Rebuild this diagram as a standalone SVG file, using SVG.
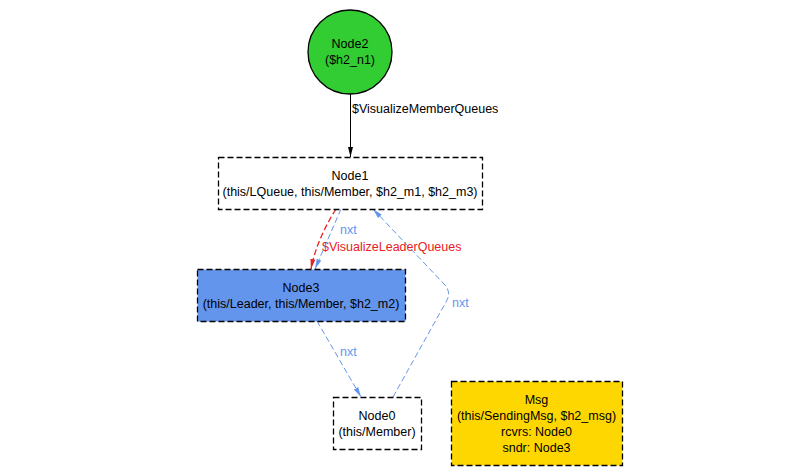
<svg xmlns="http://www.w3.org/2000/svg" width="788" height="470" viewBox="0 0 788 470">
<defs>
<style>
text{font-family:"Liberation Sans",Arial,sans-serif;font-size:12.5px;text-anchor:middle;fill:#000}
.lbl{text-anchor:start}
.box{stroke:#000;stroke-width:1.3;stroke-dasharray:6,3}
.e{fill:none;stroke-width:1}
.blue{stroke:#6495ED;stroke-dasharray:6,3}
.red{stroke:#E8201E;stroke-dasharray:6,3;stroke-width:1.3}
</style>
<marker id="ab" viewBox="0 0 10 10" refX="10" refY="5" markerWidth="10" markerHeight="10" markerUnits="userSpaceOnUse" orient="auto"><path d="M0,2.5L10,5L0,7.5z" fill="#000"/></marker>
<marker id="ablue" viewBox="0 0 10 10" refX="10" refY="5" markerWidth="10" markerHeight="10" markerUnits="userSpaceOnUse" orient="auto"><path d="M0,2.5L10,5L0,7.5z" fill="#6495ED"/></marker>
<marker id="ared" viewBox="0 0 10 10" refX="10" refY="5" markerWidth="10" markerHeight="10" markerUnits="userSpaceOnUse" orient="auto"><path d="M0,2.5L10,5L0,7.5z" fill="#E8201E"/></marker>
</defs>
<rect width="788" height="470" fill="#fff"/>
<g id="connectors">
<path class="e" stroke="#000" d="M350.5,94L350.5,157" marker-end="url(#ab)"/>
<text class="lbl" x="352" y="113">$VisualizeMemberQueues</text>
<path class="e red" d="M336,209C324,228 315,248 311,269" marker-end="url(#ared)"/>
<text class="lbl" x="322" y="251" style="fill:#E8201E">$VisualizeLeaderQueues</text>
<path class="e blue" d="M341,209L315,269" marker-end="url(#ablue)"/>
<text class="lbl" x="340" y="234" style="fill:#6495ED">nxt</text>
<path class="e blue" d="M317,321L361,397" marker-end="url(#ablue)"/>
<text class="lbl" x="340" y="356" style="fill:#6495ED">nxt</text>
<path class="e blue" d="M393,397L446,302Q452,292 444,284L373,209" marker-end="url(#ablue)"/>
<text class="lbl" x="452" y="307" style="fill:#6495ED">nxt</text>
</g>
<g id="Node2">
<circle cx="350" cy="52" r="42" fill="#32CD32" stroke="#000" stroke-width="1.3"/>
<text x="350" y="48">Node2</text>
<text x="350" y="64">($h2_n1)</text>
</g>
<g id="Node1">
<rect class="box" x="218.5" y="157.5" width="264" height="52" fill="#fff"/>
<text x="350" y="180">Node1</text>
<text x="350" y="196">(this/LQueue, this/Member, $h2_m1, $h2_m3)</text>
</g>
<g id="Node3">
<rect class="box" x="197.5" y="269.5" width="208" height="52" fill="#6495ED"/>
<text x="301" y="292">Node3</text>
<text x="301" y="308">(this/Leader, this/Member, $h2_m2)</text>
</g>
<g id="Node0">
<rect class="box" x="333.5" y="397.5" width="88" height="52" fill="#fff"/>
<text x="377" y="420">Node0</text>
<text x="377" y="436">(this/Member)</text>
</g>
<g id="Msg">
<rect class="box" x="451.5" y="381.5" width="171" height="84" fill="#FFD700"/>
<text x="536.5" y="404">Msg</text>
<text x="536.5" y="420">(this/SendingMsg, $h2_msg)</text>
<text x="536.5" y="436">rcvrs: Node0</text>
<text x="536.5" y="452">sndr: Node3</text>
</g>
</svg>
